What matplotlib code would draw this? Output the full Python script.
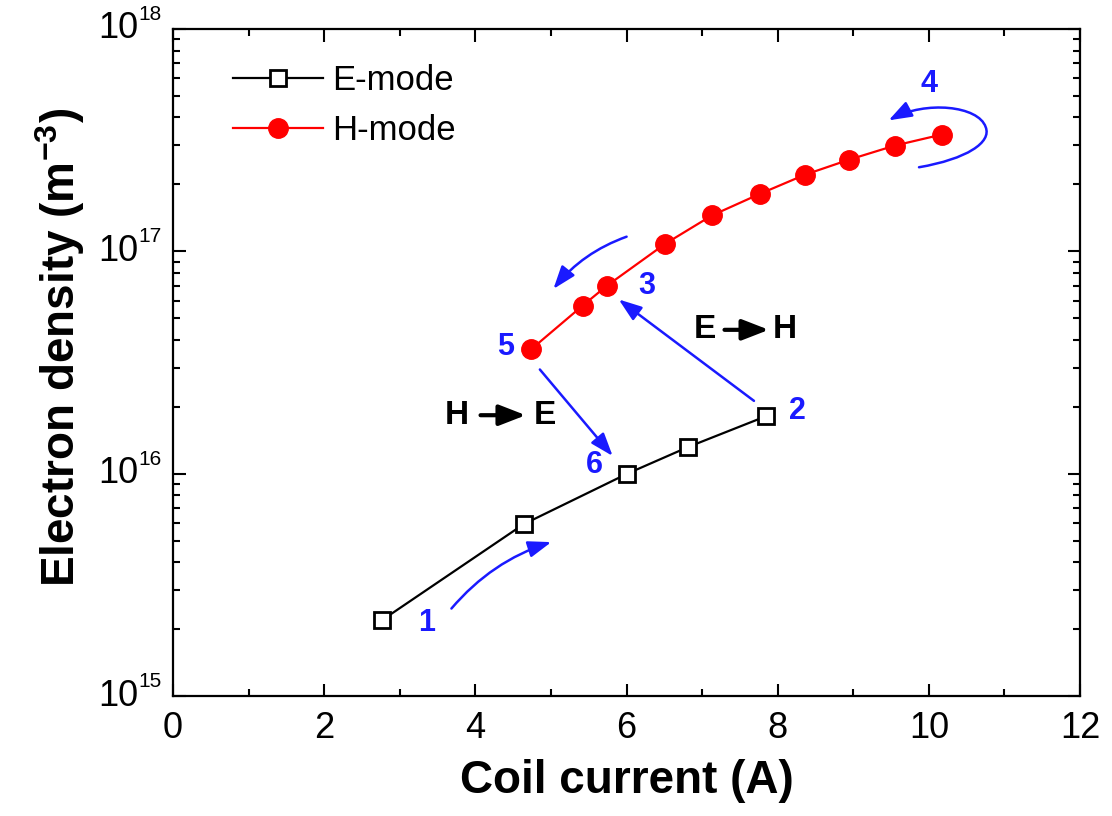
import matplotlib
matplotlib.use("Agg")
import matplotlib.pyplot as plt
from matplotlib.patches import FancyArrowPatch
from matplotlib.path import Path
from matplotlib.ticker import LogLocator, MultipleLocator, NullFormatter

plt.rcParams['font.family'] = ['Liberation Sans', 'DejaVu Sans']
plt.rcParams['mathtext.fontset'] = 'custom'
plt.rcParams['mathtext.rm'] = 'Liberation Sans'
plt.rcParams['mathtext.bf'] = 'Liberation Sans:bold'

# Data
e_current = [2.77, 4.64, 6.01, 6.82, 7.84]
e_density = [2.2e15, 5.93e15, 1.0e16, 1.32e16, 1.81e16]
h_current = [4.74, 5.42, 5.74, 6.51, 7.13, 7.76, 8.36, 8.94, 9.55, 10.17]
h_density = [3.63e16, 5.7e16, 7.0e16, 1.08e17, 1.45e17, 1.81e17, 2.21e17, 2.58e17, 2.99e17, 3.35e17]
series_labels = ['E-mode', 'H-mode']
step_labels = ['1', '2', '3', '4', '5', '6']
y_major = [1e15, 1e16, 1e17, 1e18]
y_exponents = ['15', '16', '17', '18']

BLUE = '#1a1aff'

fig = plt.figure(figsize=(11.12, 8.16), dpi=100)
ax = fig.add_axes([0.1556, 0.147, 0.9712 - 0.1556, 0.9645 - 0.147])

ax.plot(e_current, e_density, color='black', lw=1.6, marker='s', ms=11,
        mfc='white', mec='black', mew=2, label=series_labels[0], zorder=3)
ax.plot(h_current, h_density, color='red', lw=1.6, marker='o', ms=14,
        mfc='red', mec='red', label=series_labels[1], zorder=3)

ax.set_yscale('log')
ax.set_xlim(0, 12)
ax.set_ylim(1e15, 1e18)
ax.xaxis.set_major_locator(MultipleLocator(2))
ax.xaxis.set_minor_locator(MultipleLocator(1))
ax.yaxis.set_major_locator(LogLocator(base=10, numticks=10))
ax.yaxis.set_minor_locator(LogLocator(base=10, subs=range(2, 10), numticks=20))
ax.yaxis.set_minor_formatter(NullFormatter())

ax.tick_params(which='both', direction='in', top=True, right=True, width=1.5)
ax.tick_params(which='major', length=9, labelsize=26, pad=11)
ax.tick_params(which='minor', length=5)
ax.tick_params(axis='y', labelleft=False)
for s in ax.spines.values():
    s.set_linewidth(1.6)

# y tick labels: "10" with a small raised exponent
for v, ex in zip(y_major, y_exponents):
    ax.annotate('10', xy=(0, v), xycoords=('axes fraction', 'data'),
                xytext=(-35, 0), textcoords='offset pixels',
                ha='right', va='center', fontsize=26)
    ax.annotate(ex, xy=(0, v), xycoords=('axes fraction', 'data'),
                xytext=(-35, 5), textcoords='offset pixels',
                ha='left', va='bottom', fontsize=15)

ax.set_xlabel('Coil current (A)', fontsize=33, fontweight='bold')
ax.set_ylabel(r'Electron density (m$^{\mathbf{-3}}$)', fontsize=33,
              fontweight='bold')
ax.xaxis.set_label_coords(0.5, -0.095)
ax.yaxis.set_label_coords(-0.095, 0.523)

leg = ax.legend(loc='upper left', bbox_to_anchor=(0.066, 0.948), frameon=False,
                fontsize=25, handlelength=2.6, handletextpad=0.25,
                labelspacing=0.5, borderaxespad=0, borderpad=0)

tf = ax.transAxes
arrow_kw = dict(arrowstyle='-|>,head_length=0.7,head_width=0.25', color=BLUE,
                lw=1.8, mutation_scale=20)

# numbered step labels
step_pos = [(0.28, 0.11), (0.688, 0.427), (0.522, 0.615),
            (0.833, 0.918), (0.367, 0.523), (0.465, 0.347)]
for lab, (x, y) in zip(step_labels, step_pos):
    ax.text(x, y, lab, transform=tf, color=BLUE, fontsize=22,
            fontweight='bold', ha='center', va='center')

# arrow 1 (curved, along E-mode)
ax.add_patch(FancyArrowPatch((0.305, 0.128), (0.42, 0.232), transform=tf,
                             connectionstyle='arc3,rad=-0.15', **arrow_kw))
# E -> H transition
ax.add_patch(FancyArrowPatch((0.643, 0.44), (0.489, 0.597), transform=tf,
                             **arrow_kw))
# arrow along H-mode going down
ax.add_patch(FancyArrowPatch((0.503, 0.69), (0.4175, 0.607), transform=tf,
                             connectionstyle='arc3,rad=0.15', **arrow_kw))
# H -> E transition
ax.add_patch(FancyArrowPatch((0.4025, 0.4927), (0.4867, 0.3567), transform=tf,
                             **arrow_kw))
# loop arrow 4
verts = [(0.8225, 0.7927), (0.875, 0.805), (0.903, 0.83), (0.896, 0.853),
         (0.888, 0.885), (0.83, 0.893), (0.789, 0.863)]
codes = [Path.MOVETO] + [Path.CURVE4] * 6
ax.add_patch(FancyArrowPatch(path=Path(verts, codes), transform=tf, **arrow_kw))

# black transition labels
def trans_label(x1, xa, xb, x2, y, a, b):
    ax.text(x1, y, a, transform=tf, fontsize=24, fontweight='bold',
            ha='center', va='center')
    ax.text(x2, y, b, transform=tf, fontsize=24, fontweight='bold',
            ha='center', va='center')
    ax.add_patch(FancyArrowPatch((xa, y), (xb, y), transform=tf,
                                 arrowstyle='-|>,head_length=0.9,head_width=0.35',
                                 color='black', lw=3, mutation_scale=18))

trans_label(0.5866, 0.605, 0.660, 0.6748, 0.549, 'E', 'H')
trans_label(0.313, 0.336, 0.392, 0.410, 0.421, 'H', 'E')

fig.savefig('out.png', dpi=100)
